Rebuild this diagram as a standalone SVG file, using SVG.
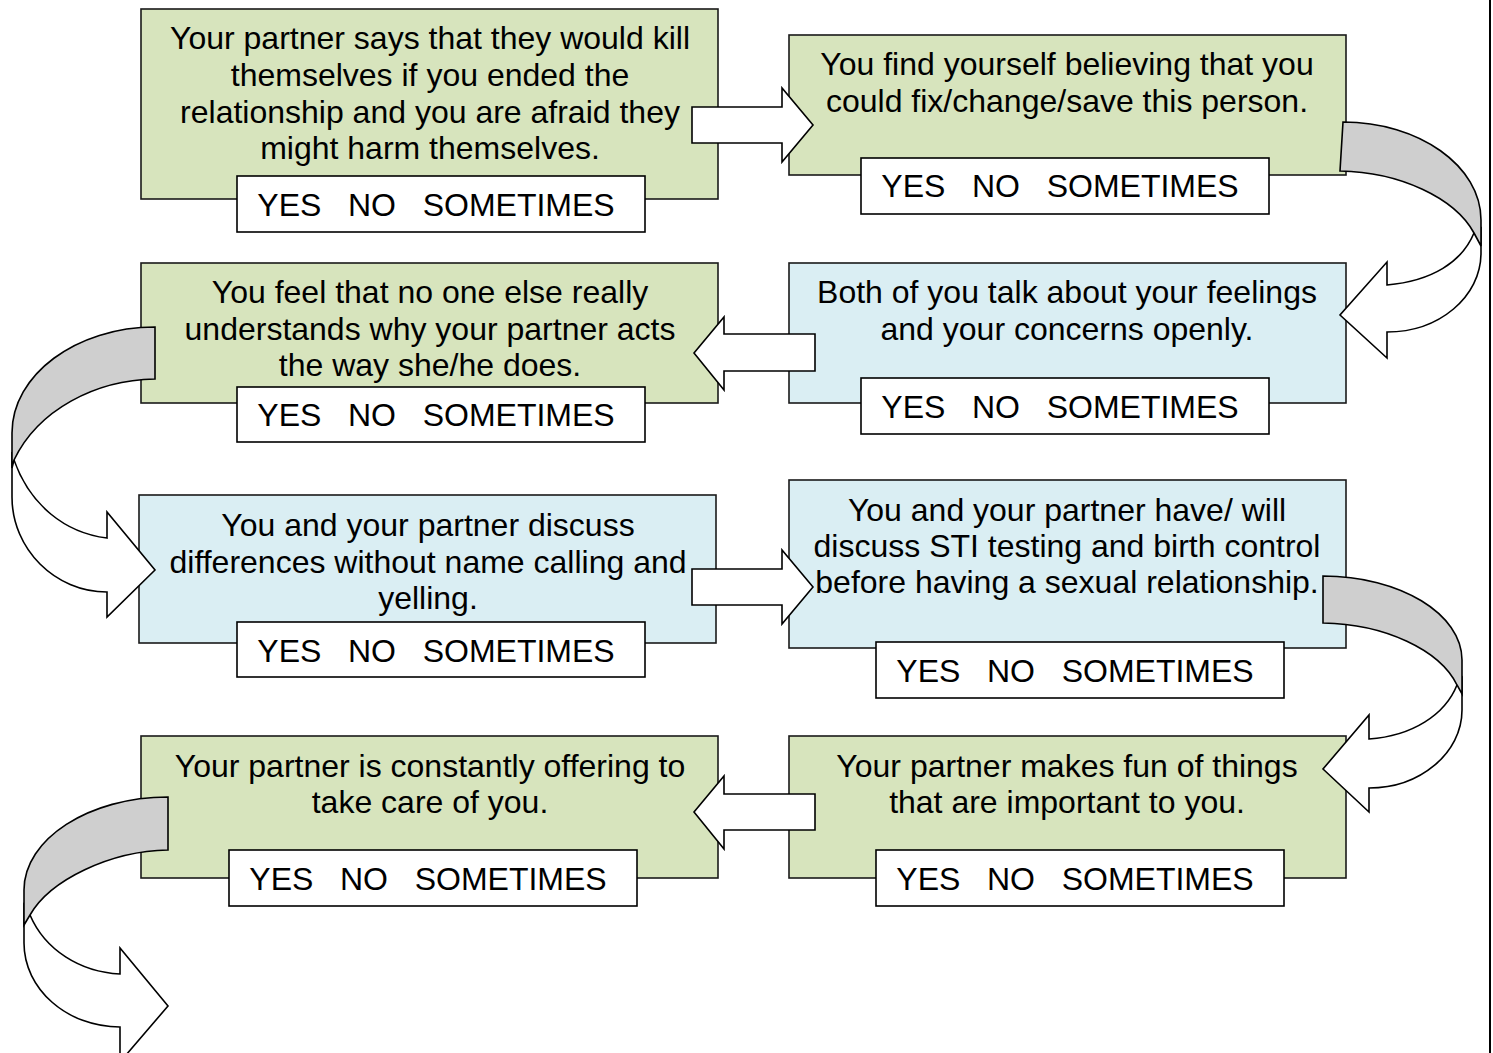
<svg xmlns="http://www.w3.org/2000/svg" width="1493" height="1053" viewBox="0 0 1493 1053">
<style>
.g{fill:#D7E4BD;stroke:#1a1a1a;stroke-width:1.6}
.b{fill:#DAEEF3;stroke:#1a1a1a;stroke-width:1.6}
.a{fill:#fff;stroke:#000;stroke-width:1.6}
.t{font-family:"Liberation Sans",Arial,sans-serif;font-size:32px;fill:#000;text-anchor:middle}
.arr{fill:#fff;stroke:#000;stroke-width:1.6;stroke-linejoin:miter}
.gr{fill:#CFCFCF;stroke:#000;stroke-width:1.6}
</style>
<rect width="1493" height="1053" fill="#fff"/>
<line x1="1490" y1="0" x2="1490" y2="1053" stroke="#000" stroke-width="2"/>

<g id="node1">
<rect class="g" x="141" y="9" width="577" height="190"/>
<text class="t" x="430" y="49">Your partner says that they would kill</text>
<text class="t" x="430" y="86">themselves if you ended the</text>
<text class="t" x="430" y="123">relationship and you are afraid they</text>
<text class="t" x="430" y="159">might harm themselves.</text>
<rect class="a" x="237" y="176" width="408" height="56"/>
<text class="t" x="436" y="216" xml:space="preserve">YES   NO   SOMETIMES</text>
</g>

<g id="node2">
<rect class="g" x="789" y="35" width="557" height="140"/>
<text class="t" x="1067" y="75">You find yourself believing that you</text>
<text class="t" x="1067" y="112">could fix/change/save this person.</text>
<rect class="a" x="861" y="158" width="408" height="56"/>
<text class="t" x="1060" y="197" xml:space="preserve">YES   NO   SOMETIMES</text>
</g>

<g id="node3">
<rect class="g" x="141" y="263" width="577" height="140"/>
<text class="t" x="430" y="303">You feel that no one else really</text>
<text class="t" x="430" y="340">understands why your partner acts</text>
<text class="t" x="430" y="376">the way she/he does.</text>
<rect class="a" x="237" y="387" width="408" height="55"/>
<text class="t" x="436" y="426" xml:space="preserve">YES   NO   SOMETIMES</text>
</g>

<g id="node4">
<rect class="b" x="789" y="263" width="557" height="140"/>
<text class="t" x="1067" y="303">Both of you talk about your feelings</text>
<text class="t" x="1067" y="340">and your concerns openly.</text>
<rect class="a" x="861" y="378" width="408" height="56"/>
<text class="t" x="1060" y="418" xml:space="preserve">YES   NO   SOMETIMES</text>
</g>

<g id="node5">
<rect class="b" x="139" y="495" width="577" height="148"/>
<text class="t" x="428" y="536">You and your partner discuss</text>
<text class="t" x="428" y="573">differences without name calling and</text>
<text class="t" x="428" y="609">yelling.</text>
<rect class="a" x="237" y="622" width="408" height="55"/>
<text class="t" x="436" y="662" xml:space="preserve">YES   NO   SOMETIMES</text>
</g>

<g id="node6">
<rect class="b" x="789" y="480" width="557" height="168"/>
<text class="t" x="1067" y="521">You and your partner have/ will</text>
<text class="t" x="1067" y="557">discuss STI testing and birth control</text>
<text class="t" x="1067" y="593">before having a sexual relationship.</text>
<rect class="a" x="876" y="642" width="408" height="56"/>
<text class="t" x="1075" y="682" xml:space="preserve">YES   NO   SOMETIMES</text>
</g>

<g id="node7">
<rect class="g" x="141" y="736" width="577" height="142"/>
<text class="t" x="430" y="777">Your partner is constantly offering to</text>
<text class="t" x="430" y="813">take care of you.</text>
<rect class="a" x="229" y="850" width="408" height="56"/>
<text class="t" x="428" y="890" xml:space="preserve">YES   NO   SOMETIMES</text>
</g>

<g id="node8">
<rect class="g" x="789" y="736" width="557" height="142"/>
<text class="t" x="1067" y="777">Your partner makes fun of things</text>
<text class="t" x="1067" y="813">that are important to you.</text>
<rect class="a" x="876" y="850" width="408" height="56"/>
<text class="t" x="1075" y="890" xml:space="preserve">YES   NO   SOMETIMES</text>
</g>

<g id="connectors">
<polygon class="arr" points="692,107 782,107 782,88 813,125 782,162 782,143 692,143"/>
<polygon class="arr" points="815,334 724,334 724,317 694,353 724,390 724,371 815,371"/>
<polygon class="arr" points="692,569 782,569 782,550 813,587 782,624 782,605 692,605"/>
<polygon class="arr" points="815,794 724,794 724,776 694,812 724,849 724,830 815,830"/>

<path class="arr" d="M1481,228 L1481,253 C1481,297 1439,332 1387,332 L1387,358 L1340,315 L1387,262 L1387,285 C1432,281 1462,262 1474,233 Z"/>
<path class="gr" d="M1343,122 C1419,122 1481,166 1481,220 L1481,246 L1474,233 C1455,198 1400,172 1340,171 Z"/>

<path class="arr" d="M12,452 L12,497 C12,549 55,592 107,592 L107,617 L155,570 L107,512 L107,538 C65,533 30,505 14,460 Z"/>
<path class="gr" d="M155,327 C76,327 12,375 12,433 L12,468 L14,460 C38,410 95,380 155,379 Z"/>

<path class="arr" d="M1462,678 L1462,710 C1462,753 1420,788 1369,788 L1369,812 L1323,769 L1369,715 L1369,739 C1412,736 1445,715 1457,685 Z"/>
<path class="gr" d="M1323,576 C1400,576 1462,614 1462,660 L1462,694 L1457,685 C1440,650 1385,624 1323,623 Z"/>

<path class="arr" d="M24,905 L24,943 C24,989 67,1027 120,1027 L120,1062 L168,1006 L120,948 L120,974 C80,972 45,950 30,915 Z"/>
<path class="gr" d="M168,797 C89,797 24,839 24,890 L24,925 L30,915 C50,880 110,851 168,850 Z"/>
</g>
</svg>
